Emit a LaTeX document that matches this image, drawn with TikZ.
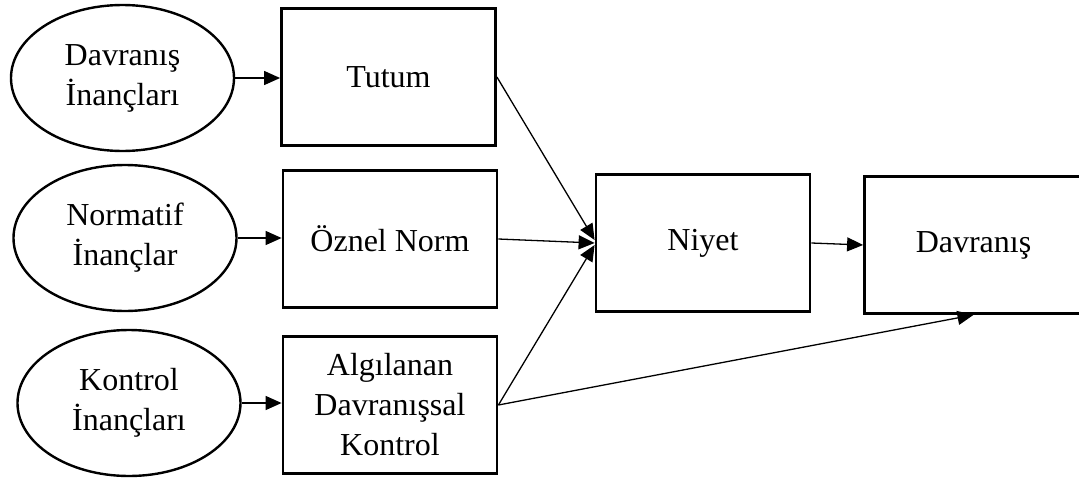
\documentclass[tikz,border=0pt]{standalone}
\usepackage{fontspec}
\setmainfont{Liberation Serif}
\usetikzlibrary{arrows.meta,shapes.geometric}

\tikzset{every picture/.style={line width=1.3pt},
        belief/.style={ellipse, draw=black, line width=2.4pt, minimum width=223pt, minimum height=146pt, inner sep=0pt, align=center, font=\fontsize{32}{40}\selectfont},
        construct/.style={rectangle, draw=black, line width=2.8pt, minimum width=214pt, minimum height=137pt, inner sep=0pt, align=center, font=\fontsize{32}{40}\selectfont},
        link/.style={-{Triangle[length=16pt,width=14pt]}}}

\begin{document}
\begin{tikzpicture}[x=1pt,y=-1pt]

\useasboundingbox (0,0) rectangle (1079,482);

% draw belief ellipses
\node[belief] (davInanc) at (122.5,78) {Davranış\\İnançları};
\node[belief] (normInanc) at (125,238) {Normatif\\İnançlar};
\node[belief] (kontInanc) at (129,403) {Kontrol\\İnançları};

% draw boxes
\node[construct] (tutum) at (388.5,77) {Tutum};
\node[construct] (oznel) at (390,239) {Öznel Norm};
\node[construct] (pbc) at (390,405) {Algılanan\\Davranışsal\\Kontrol};
\node[construct] (niyet) at (703,243) {Niyet};
\node[construct, minimum width=218pt] (davranis) at (973.5,245) {Davranış};

% draw necessary paths
\draw[link] (davInanc.east) -- (davInanc.east -| tutum.west);
\draw[link] (normInanc.east) -- (normInanc.east -| oznel.west);
\draw[link] (kontInanc.east) -- (kontInanc.east -| pbc.west);

\draw[link] (tutum.east) -- ([yshift=3pt]niyet.west);
\draw[link] (oznel.east) -- (niyet.west);
\draw[link] (pbc.east) -- ([yshift=-2pt]niyet.west);

\draw[link] (niyet.east) -- (davranis.west);
\draw[link] (pbc.east) -- (davranis.south);

\end{tikzpicture}
\end{document}
